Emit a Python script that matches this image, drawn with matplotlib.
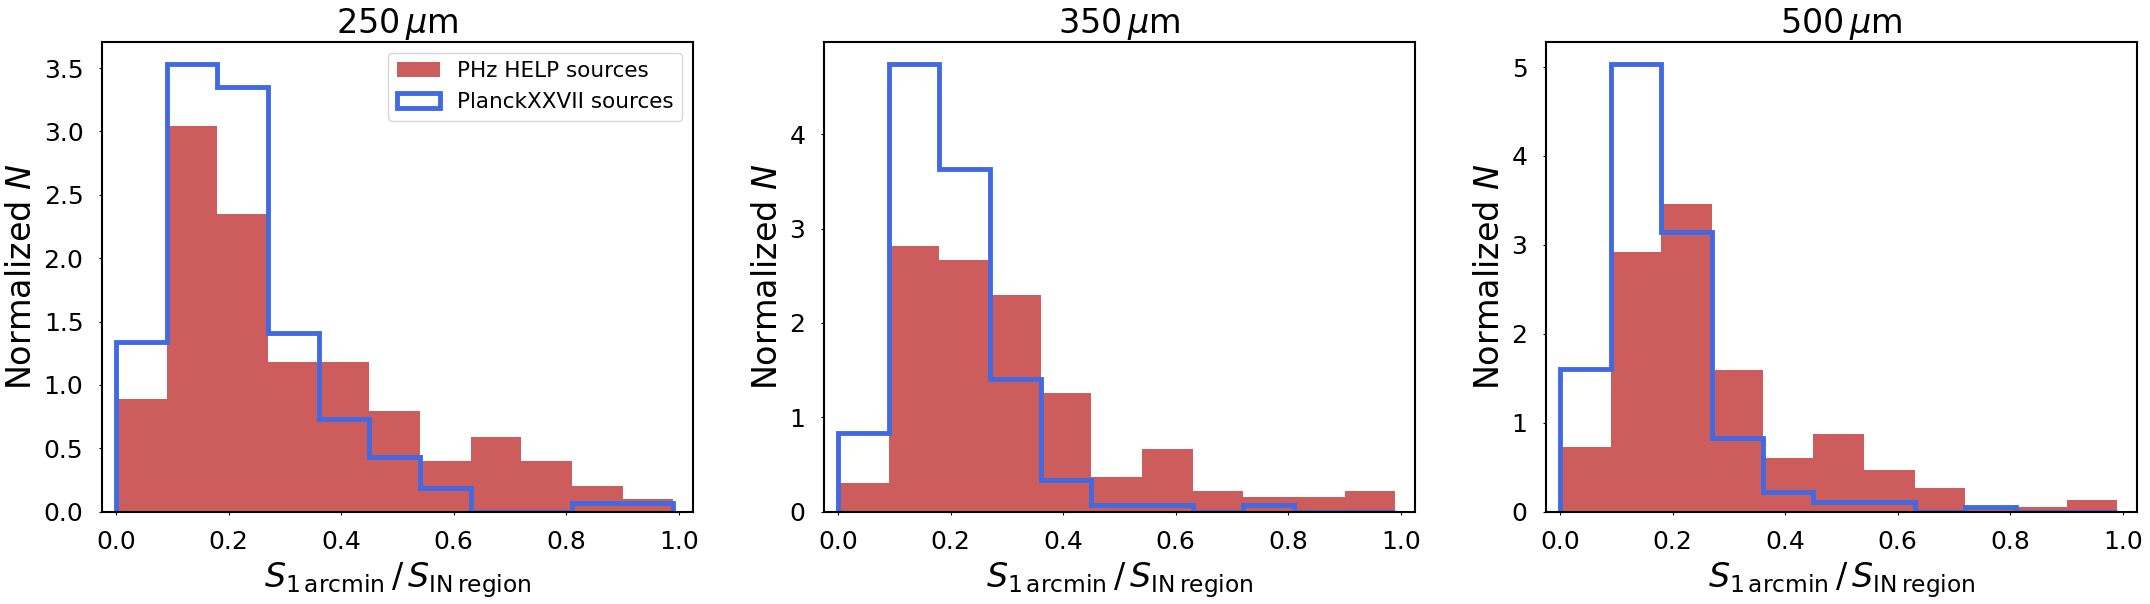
import matplotlib
matplotlib.use('Agg')
import matplotlib.pyplot as plt
import numpy as np

# bin edges shared by all three panels
edges = [0.0, 0.09, 0.18, 0.27, 0.36, 0.45, 0.54, 0.63, 0.72, 0.81, 0.90, 0.99]

bands = ['250', '350', '500']

# normalized counts
help_250 = [0.89, 3.04, 2.35, 1.18, 1.18, 0.79, 0.40, 0.59, 0.40, 0.20, 0.10]
planck_250 = [1.34, 3.53, 3.35, 1.41, 0.73, 0.43, 0.19, 0.0, 0.0, 0.065, 0.065]

help_350 = [0.30, 2.81, 2.67, 2.30, 1.26, 0.37, 0.66, 0.22, 0.15, 0.15, 0.22]
planck_350 = [0.83, 4.74, 3.63, 1.40, 0.34, 0.067, 0.067, 0.0, 0.067, 0.0, 0.0]

help_500 = [0.73, 2.92, 3.46, 1.59, 0.60, 0.87, 0.47, 0.26, 0.05, 0.057, 0.13]
planck_500 = [1.60, 5.03, 3.15, 0.83, 0.22, 0.11, 0.11, 0.0, 0.057, 0.0, 0.0]

help_all = [help_250, help_350, help_500]
planck_all = [planck_250, planck_350, planck_500]

yticks_all = [[0.0, 0.5, 1.0, 1.5, 2.0, 2.5, 3.0, 3.5],
              [0, 1, 2, 3, 4],
              [0, 1, 2, 3, 4, 5]]
xticks = [0.0, 0.2, 0.4, 0.6, 0.8, 1.0]

fig = plt.figure(figsize=(21.5, 6.04), dpi=100)

lefts = [102 / 2150, 824 / 2150, 1546 / 2150]
for i in range(3):
    ax = fig.add_axes([lefts[i], 0.153, 591 / 2150, 0.7775])
    x = np.array(edges[:-1]) + 0.045
    ax.hist(x, bins=edges, weights=help_all[i], color='indianred',
            label='PHz HELP sources')
    ax.hist(x, bins=edges, weights=planck_all[i], histtype='step',
            color='royalblue', linewidth=3.5, label='PlanckXXVII sources')
    ax.set_xlim(-0.025, 1.025)
    ax.set_ylim(bottom=0)
    ax.set_xticks(xticks)
    ax.set_yticks(yticks_all[i])
    if i == 0:
        ax.set_yticklabels(['%.1f' % v for v in yticks_all[i]])
    ax.tick_params(labelsize=18, length=2.4, width=0.8, pad=11)
    for s in ax.spines.values():
        s.set_linewidth(1.5)
    ax.set_title(bands[i] + r'$\,\mu$m', fontsize=24)
    ax.set_xlabel(r'$S_{1\,\mathrm{arcmin}}\,/\,S_{\mathrm{IN\,region}}$', fontsize=24)
    ax.set_ylabel(r'Normalized $N$', fontsize=24)
    if i == 0:
        ax.legend(loc='upper right', fontsize=15.5)

plt.savefig('out.png', dpi=100)
